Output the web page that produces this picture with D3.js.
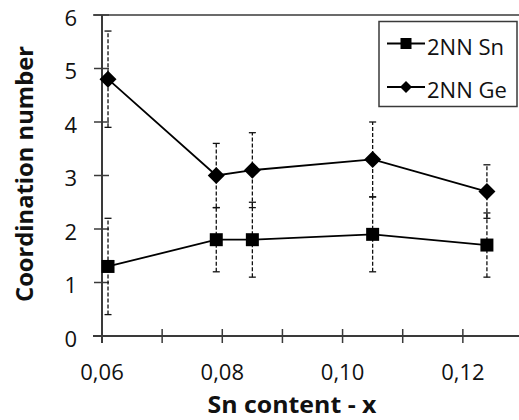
<!DOCTYPE html>
<html lang="en">
<head>
  <meta charset="UTF-8" />
  <title>Coordination number vs Sn content</title>
  <script src="https://d3js.org/d3.v7.min.js"></script>
  <style>
    body {
      margin: 0;
      padding: 0;
      background: white;
    }
    svg {
      display: block;
      font-family: "Open Sans", Lato, sans-serif;
    }
  </style>
</head>
<body>
  <svg id="chart" width="519" height="420"></svg>

  <script>
    // data
    const snContent = [0.061, 0.079, 0.085, 0.105, 0.124];
    const cnSn = [1.3, 1.8, 1.8, 1.9, 1.7];
    const errSn = [0.9, 0.6, 0.7, 0.7, 0.6];
    const cnGe = [4.8, 3.0, 3.1, 3.3, 2.7];
    const errGe = [0.9, 0.6, 0.7, 0.7, 0.5];

    const xTicks = [0.06, 0.07, 0.08, 0.09, 0.10, 0.11, 0.12, 0.13];
    const xTickLabels = ["0,06", "", "0,08", "", "0,10", "", "0,12", ""];
    const yTicks = [0, 1, 2, 3, 4, 5, 6];

    const svg = d3.select("#chart");
    const width = 519, height = 420;

    const x = d3.scaleLinear().domain([0.06, 0.13]).range([102, 523]);
    const y = d3.scaleLinear().domain([0, 6]).range([336, 15]);

    const axisColor = "#3a3a3a";

    // top border line of the plot area
    svg.append("line")
      .attr("x1", 93).attr("x2", width)
      .attr("y1", y(6)).attr("y2", y(6))
      .attr("stroke", axisColor)
      .attr("stroke-width", 1.5);

    // x axis
    const xAxis = svg.append("g").attr("transform", `translate(0,${y(0)})`);
    xAxis.append("line")
      .attr("x1", 93).attr("x2", width)
      .attr("stroke", axisColor).attr("stroke-width", 2);
    xAxis.selectAll("line.tick")
      .data(xTicks)
      .enter().append("line")
      .attr("class", "tick")
      .attr("x1", d => x(d)).attr("x2", d => x(d))
      .attr("y1", -7).attr("y2", 7)
      .attr("stroke", axisColor).attr("stroke-width", 1.5);
    xAxis.selectAll("text")
      .data(xTicks)
      .enter().append("text")
      .attr("x", d => x(d))
      .attr("y", 44)
      .attr("text-anchor", "middle")
      .style("font-size", "22px")
      .attr("fill", "#111")
      .text((d, i) => xTickLabels[i]);

    // y axis
    const yAxis = svg.append("g").attr("transform", `translate(${x(0.06)},0)`);
    yAxis.append("line")
      .attr("y1", y(6)).attr("y2", y(0) + 7)
      .attr("stroke", axisColor).attr("stroke-width", 2);
    yAxis.selectAll("line.tick")
      .data(yTicks)
      .enter().append("line")
      .attr("class", "tick")
      .attr("x1", -8).attr("x2", 7)
      .attr("y1", d => y(d)).attr("y2", d => y(d))
      .attr("stroke", axisColor).attr("stroke-width", 1.5);
    yAxis.selectAll("text")
      .data(yTicks)
      .enter().append("text")
      .attr("x", -25)
      .attr("y", d => y(d) + 10.5)
      .attr("text-anchor", "end")
      .style("font-size", "22px")
      .attr("fill", "#111")
      .text(d => d);

    // axis titles
    svg.append("text")
      .attr("transform", "translate(33,174) rotate(-90)")
      .attr("text-anchor", "middle")
      .style("font-size", "24px")
      .style("font-weight", "bold")
      .attr("fill", "#111")
      .attr("textLength", 256)
      .attr("lengthAdjust", "spacingAndGlyphs")
      .text("Coordination number");

    svg.append("text")
      .attr("x", 292)
      .attr("y", 413)
      .attr("text-anchor", "middle")
      .style("font-size", "24px")
      .style("font-weight", "bold")
      .attr("fill", "#111")
      .attr("textLength", 169)
      .attr("lengthAdjust", "spacingAndGlyphs")
      .text("Sn content - x");

    const square = d3.symbol().type(d3.symbolSquare).size(13 * 13);
    const diamond = d => `M0,${-d}L${d},0L0,${d}L${-d},0Z`;

    function drawSeries(values, errs, shape) {
      const pts = snContent.map((s, i) => ({ x: s, v: values[i], e: errs[i] }));
      const g = svg.append("g");

      // error bars, dashed with short caps
      const eb = g.selectAll("g.err")
        .data(pts)
        .enter().append("g")
        .attr("class", "err");
      eb.append("line")
        .attr("x1", d => x(d.x)).attr("x2", d => x(d.x))
        .attr("y1", d => y(d.v - d.e)).attr("y2", d => y(d.v + d.e))
        .attr("stroke", "#111").attr("stroke-width", 1.3)
        .attr("stroke-dasharray", "4,2");
      [-1, 1].forEach(sign => {
        eb.append("line")
          .attr("x1", d => x(d.x) - 3.5).attr("x2", d => x(d.x) + 3.5)
          .attr("y1", d => y(d.v + sign * d.e)).attr("y2", d => y(d.v + sign * d.e))
          .attr("stroke", "#111").attr("stroke-width", 1.3);
      });

      g.append("path")
        .datum(pts)
        .attr("fill", "none")
        .attr("stroke", "black")
        .attr("stroke-width", 1.8)
        .attr("d", d3.line().x(d => x(d.x)).y(d => y(d.v)));

      g.selectAll("path.mark")
        .data(pts)
        .enter().append("path")
        .attr("class", "mark")
        .attr("transform", d => `translate(${x(d.x)},${y(d.v)})`)
        .attr("d", shape)
        .attr("fill", "black");
    }

    drawSeries(cnSn, errSn, square());
    drawSeries(cnGe, errGe, diamond(8.5));

    // legend
    const legend = svg.append("g");
    legend.append("rect")
      .attr("x", 379).attr("y", 21.5)
      .attr("width", 138).attr("height", 85)
      .attr("fill", "white")
      .attr("stroke", axisColor)
      .attr("stroke-width", 1.5);

    const legendItems = [
      { label: "2NN Sn", cy: 43.5, shape: d3.symbol().type(d3.symbolSquare).size(11 * 11)() },
      { label: "2NN Ge", cy: 87, shape: diamond(6) }
    ];
    legendItems.forEach(item => {
      legend.append("line")
        .attr("x1", 387).attr("x2", 425)
        .attr("y1", item.cy).attr("y2", item.cy)
        .attr("stroke", "black").attr("stroke-width", 1.8);
      legend.append("path")
        .attr("transform", `translate(406,${item.cy})`)
        .attr("d", item.shape)
        .attr("fill", "black");
      legend.append("text")
        .attr("x", 427)
        .attr("y", item.cy + 11)
        .style("font-size", "22px")
        .attr("fill", "#111")
        .text(item.label);
    });
  </script>
</body>
</html>
